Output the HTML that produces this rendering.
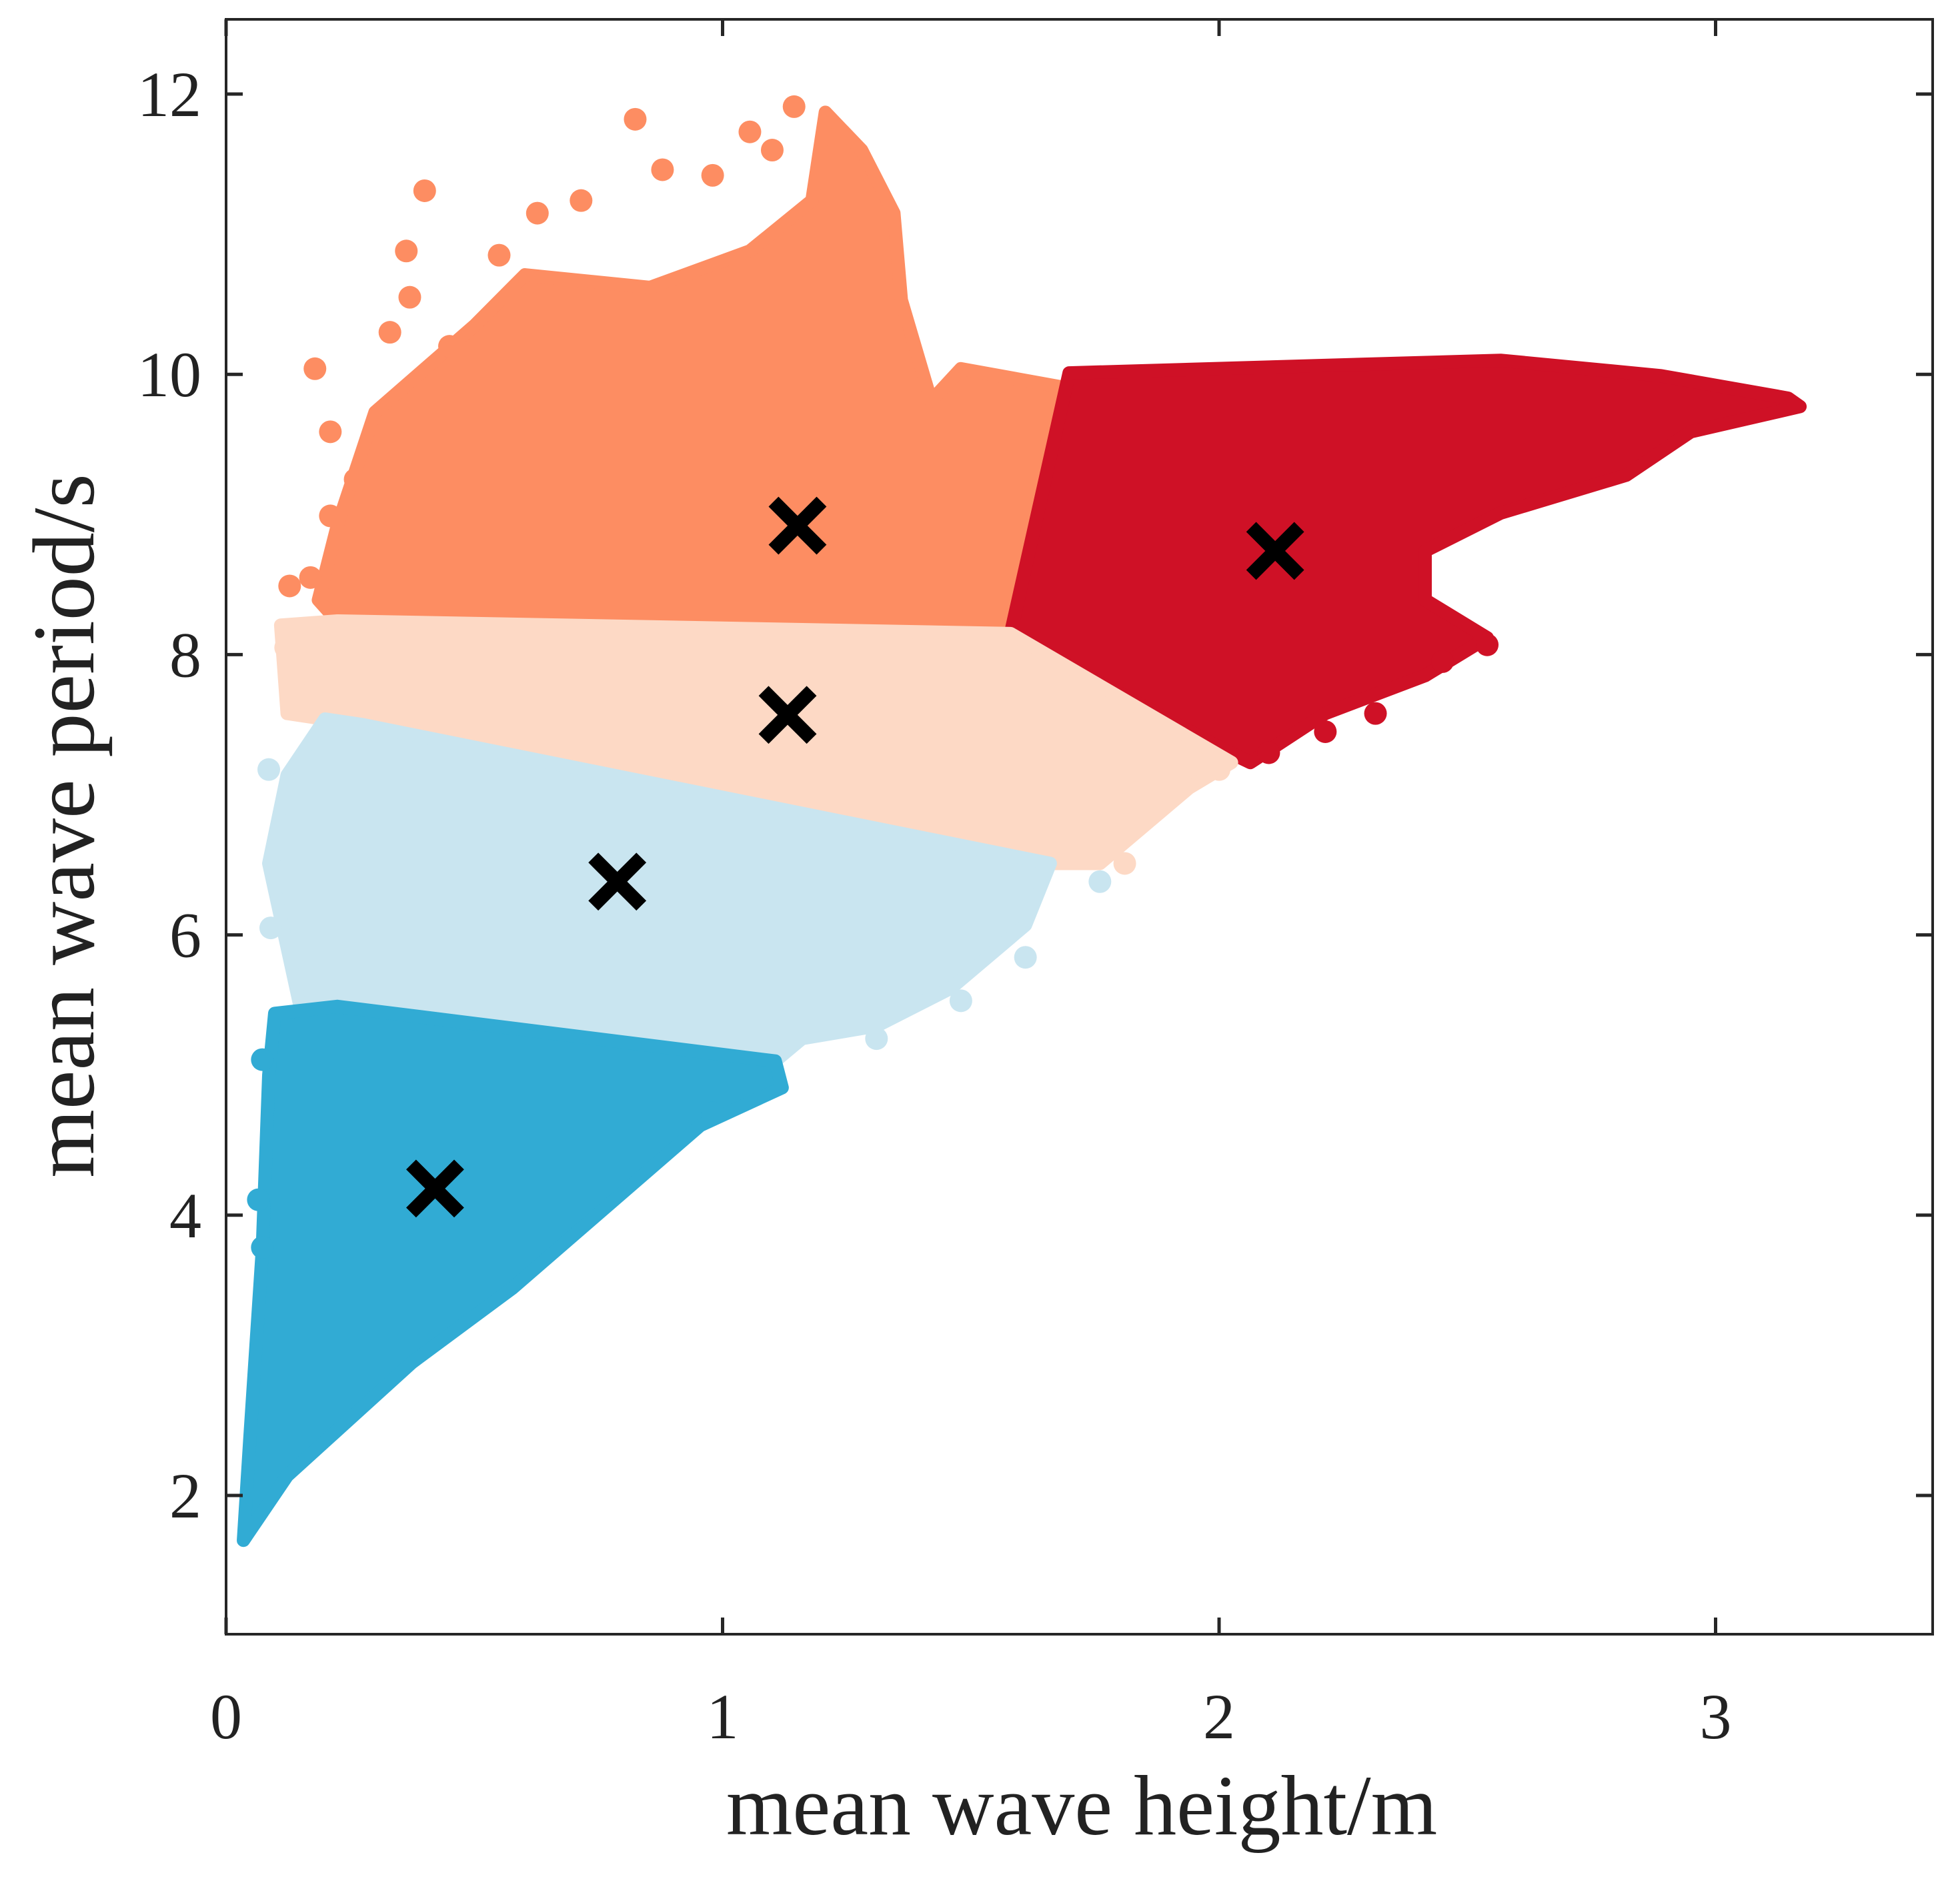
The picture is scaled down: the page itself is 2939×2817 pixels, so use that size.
<!DOCTYPE html>
<html><head><meta charset="utf-8"><style>
html,body{margin:0;padding:0;background:#fff}
svg text{font-family:"Liberation Serif",serif;fill:#222}
</style></head><body>
<svg id="chart" width="2939" height="2812" viewBox="0 0 2939 2812" xmlns="http://www.w3.org/2000/svg">
<g id="marks"></g>
<g id="axes"></g>
</svg>
<script>
const xTicks=[0,1,2,3];
const yTicks=[2,4,6,8,10,12];
const clusterColors=["#31abd4","#c9e5f0","#fdd9c5","#fd8d62","#cf1126"];
const clusterNames=["cluster-dark-blue","cluster-light-blue","cluster-peach","cluster-orange","cluster-red"];
const darkBlueOutline=[[0.098,5.44],[0.224,5.49],[1.106,5.10],[1.12,4.91],[0.955,4.64],[0.577,3.48],[0.375,2.95],[0.123,2.14],[0.035,1.68],[0.048,2.41],[0.073,3.75],[0.086,5.0]];
const lightBlueOutline=[[0.199,7.54],[0.275,7.50],[1.66,6.51],[1.61,6.07],[1.46,5.62],[1.31,5.35],[1.16,5.26],[1.106,5.10],[0.149,5.49],[0.086,6.51],[0.123,7.14]];
const peachOutline=[[0.11,8.21],[0.224,8.24],[1.58,8.15],[2.025,7.23],[1.94,7.05],[1.76,6.51],[1.66,6.51],[0.275,7.50],[0.199,7.54],[0.123,7.58]];
const orangeOutline=[[0.224,8.24],[1.58,8.15],[1.698,9.90],[1.48,10.04],[1.42,9.81],[1.36,10.53],[1.345,11.15],[1.28,11.60],[1.207,11.87],[1.18,11.24],[1.055,10.88],[0.854,10.62],[0.602,10.71],[0.501,10.35],[0.30,9.73],[0.224,8.92],[0.186,8.39]];
const redOutline=[[1.698,10.01],[2.567,10.10],[2.89,9.99],[3.146,9.83],[3.17,9.77],[2.95,9.59],[2.82,9.28],[2.567,9.01],[2.415,8.74],[2.415,8.39],[2.54,8.12],[2.415,7.85],[2.214,7.58],[2.063,7.23],[2.01,7.32],[1.58,8.15]];
const darkBluePoints=[[0.065,4.11],[0.073,3.77],[0.073,5.11],[0.98,4.73]];
const lightBluePoints=[[0.086,7.18],[1.76,6.38],[1.61,5.84],[1.31,5.26],[1.48,5.53],[0.09,6.05],[0.11,6.45]];
const peachPoints=[[0.136,7.81],[1.81,6.51],[2.0,7.18],[0.12,8.05],[0.2,7.85]];
const orangePoints=[[0.40,11.31],[0.824,11.82],[1.144,11.91],[0.179,10.04],[0.21,9.59],[0.128,8.49],[0.363,10.88],[0.627,11.15],[0.715,11.24],[0.879,11.46],[1.055,11.73],[0.21,8.99],[0.26,9.25],[0.33,10.3],[0.37,10.55],[0.45,10.2],[0.55,10.85],[0.98,11.42],[1.1,11.6],[0.17,8.55]];
const redPoints=[[2.54,8.07],[2.315,7.58],[2.214,7.45],[2.45,7.95],[2.1,7.3]];
const centroidX=[0.421,0.788,1.131,1.151,2.113];
const centroidY=[4.19,6.38,7.57,8.92,8.74];

const L=339,R=2898,T=29,B=2450;
const X0=0,X1=(R-L)/744.5,Y0=12-(B-141)/210.1,Y1=12+(141-T)/210.1;
const sx=v=>L+(v-X0)/(X1-X0)*(R-L);
const sy=v=>B-(v-Y0)/(Y1-Y0)*(B-T);
const NS="http://www.w3.org/2000/svg";
function mk(tag,attrs,parent){const e=document.createElementNS(NS,tag);for(const k in attrs)e.setAttribute(k,attrs[k]);parent.appendChild(e);return e;}
const marks=document.getElementById('marks'),axes=document.getElementById('axes');
const outlines=[darkBlueOutline,lightBlueOutline,peachOutline,orangeOutline,redOutline];
const pts=[darkBluePoints,lightBluePoints,peachPoints,orangePoints,redPoints];
const order=[3,4,2,1,0];
order.forEach(i=>{
  const g=mk('g',{},marks);
  
  
  const p=mk('polygon',{points:outlines[i].map(d=>sx(d[0])+','+sy(d[1])).join(' '),fill:clusterColors[i],stroke:clusterColors[i],'stroke-width':20,'stroke-linejoin':'round'},g);
  
  
  pts[i].forEach(d=>{
    const c=mk('circle',{cx:sx(d[0]),cy:sy(d[1]),r:17,fill:clusterColors[i]},g);
    
    
  });
});
centroidX.forEach((cx,i)=>{
  const x=sx(cx),y=sy(centroidY[i]),s=36;
  const g=mk('g',{stroke:'#000','stroke-width':21},marks);
  
  
  mk('line',{x1:x-s,y1:y-s,x2:x+s,y2:y+s},g);
  mk('line',{x1:x-s,y1:y+s,x2:x+s,y2:y-s},g);
});
const frame=mk('rect',{x:L,y:T,width:R-L,height:B-T,fill:'none',stroke:'#262626','stroke-width':4},axes);


xTicks.forEach(v=>{
  const x=sx(v);
  mk('line',{x1:x,y1:B,x2:x,y2:B-25,stroke:'#262626','stroke-width':5},axes);
  mk('line',{x1:x,y1:T,x2:x,y2:T+25,stroke:'#262626','stroke-width':5},axes);
  const t=mk('text',{x:x,y:2606,'font-size':96,'text-anchor':'middle'},axes);
  t.textContent=v;
  
  
});
yTicks.forEach(v=>{
  const y=sy(v);
  mk('line',{x1:L,y1:y,x2:L+25,y2:y,stroke:'#262626','stroke-width':5},axes);
  mk('line',{x1:R,y1:y,x2:R-25,y2:y,stroke:'#262626','stroke-width':5},axes);
  const t=mk('text',{x:302,y:y+33,'font-size':96,'text-anchor':'end'},axes);
  t.textContent=v;
  
  
});
const xt=mk('text',{x:1622,y:2750,'font-size':128,'text-anchor':'middle'},axes);
xt.textContent='mean wave height/m';


const yt=mk('text',{x:0,y:0,'font-size':132,'text-anchor':'middle',transform:'translate(140,1238) rotate(-90)'},axes);
yt.textContent='mean wave period/s';


</script>
</body></html>
